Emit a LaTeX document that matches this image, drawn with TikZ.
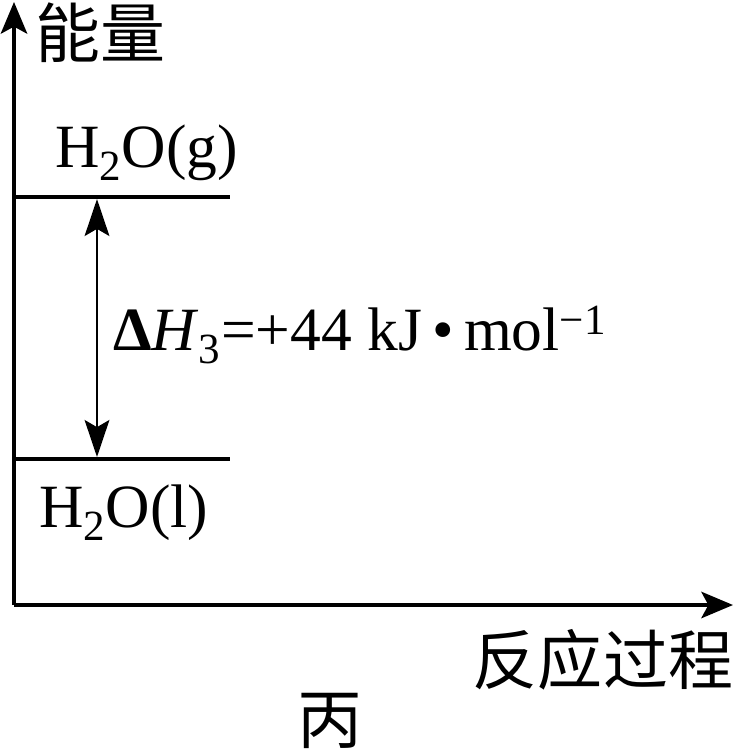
\documentclass[tikz,border=0pt]{standalone}
\usepackage{fontspec}
\setmainfont{Liberation Serif}
\newfontfamily\cjk{Noto Sans CJK SC}
\usetikzlibrary{arrows.meta}

\begin{document}
\begin{tikzpicture}[x=.02cm,y=-.02cm,line width=2.3pt,
  lbl/.style={inner sep=0pt,font=\fontsize{35}{40}\selectfont},
  zh/.style={inner sep=0pt,font=\cjk\fontsize{37}{40}\selectfont}]
\useasboundingbox (0,0) rectangle (734,751);
\coordinate (O) at (14,605);\coordinate (ytop) at (14,2);\coordinate (xend) at (733,605);
\draw[-{Stealth[length=18pt,width=15pt,inset=4pt]}] (O)--(ytop);\draw[-{Stealth[length=18pt,width=15pt,inset=4pt]}] (O)--(xend);
\coordinate (gL) at (14,197);\coordinate (gR) at (230,197);\draw (gL)--(gR);
\coordinate (lL) at (14,459);\coordinate (lR) at (230,459);\draw (lL)--(lR);
\coordinate (gA) at (97,199);\coordinate (lA) at (97,457);
\draw[{Stealth[length=21pt,width=14pt,inset=4pt]}-{Stealth[length=21pt,width=14pt,inset=4pt]},line width=1.7pt] (gA)--(lA);
\node[zh,anchor=west] (ylab) at (33,33){能量};
\node[zh,anchor=center] (xlab) at (603,660){反应过程};
\node[zh,anchor=center] (cap) at (330,721){丙};
\node[lbl,anchor=base west] (gas) at (53,167){H\textsubscript{2}O(g)};
\node[lbl,anchor=base west] (liq) at (37,527){H\textsubscript{2}O(l)};
\node[lbl,anchor=base west] (dH) at (111,350){\textbf{Δ}\textit{H}\textsubscript{3}=+44 kJ\,•\,mol\textsuperscript{−1}};
\end{tikzpicture}
\end{document}
